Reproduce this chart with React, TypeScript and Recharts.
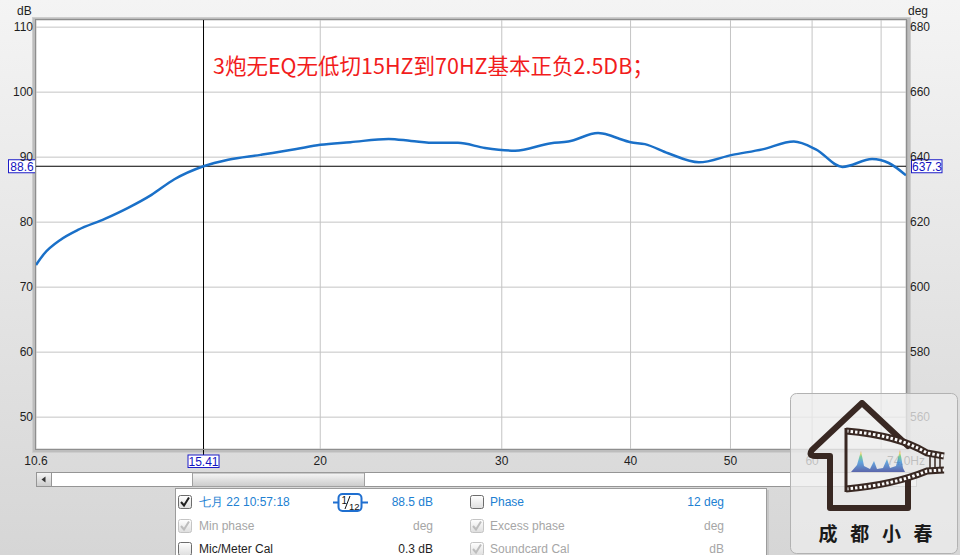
import { LineChart, Line, XAxis, YAxis, CartesianGrid, ReferenceLine } from "recharts";

// Frequency response, 1/12 octave smoothing
const freqHz = [
  10.6, 10.79, 11.2, 11.64, 12.36, 13.02, 13.72, 14.44, 15.41, 16.28, 17.5, 18.9, 20.0, 21.4, 23.3, 24.5,
  25.9, 27.2, 28.9, 30.9, 33.5, 34.8, 37.2, 38.1, 38.9, 40.0, 41.3, 43.5, 46.6, 50.2, 53.7, 57.6, 60.5,
  64.2, 68.6, 71.2, 74.0,
];
const splDb = [
  73.4, 75.1, 77.3, 78.8, 80.5, 82.2, 84.2, 86.6, 88.6, 89.6, 90.35, 91.2, 91.9, 92.3, 92.8, 92.5,
  92.2, 92.2, 91.4, 91.0, 92.15, 92.4, 93.7, 93.4, 92.9, 92.3, 92.0, 90.6, 89.2, 90.35, 91.2, 92.4, 91.2,
  88.5, 89.7, 89.1, 87.2,
];

const dbTicks = [50, 60, 70, 80, 90, 100, 110];
const degTicks = [560, 580, 600, 620, 640, 660, 680];
const freqTicks = [10.6, 20, 30, 40, 50, 60, 70, 74];
const freqTickText: Record<number, string> = { 10.6: "10.6", 20: "20", 30: "30", 40: "40", 50: "50", 60: "60", 74: "74.0Hz" };

const dbDomain = [45.1, 111.1];
const degDomain = [550.2, 682.2];
const freqDomain = [10.6, 74.0];

const cursorFreq = 15.41;
const cursorDb = 88.6;
const cursorDeg = 637.3;

const title = "3炮无EQ无低切15HZ到70HZ基本正负2.5DB；";

const data = freqHz.map((f, i) => ({ freq: f, spl: splDb[i] }));

const FONT = '"Liberation Sans", Arial, sans-serif';
const CJK = '"Noto Sans CJK SC", "Liberation Sans", sans-serif';
const BLUE = "#2180d2";
const GRAY = "#a6a6a6";

function LeftTick({ y, payload }: any) {
  return (
    <text x={33} y={y + 4} textAnchor="end" fontSize={12} fontFamily={FONT} fill="#1e1e1e">
      {payload.value}
    </text>
  );
}

function RightTick({ y, payload }: any) {
  return (
    <text x={910} y={y + 4} textAnchor="start" fontSize={12} fontFamily={FONT} fill="#1e1e1e">
      {payload.value}
    </text>
  );
}

function FreqTick({ x, payload }: any) {
  const label = freqTickText[payload.value];
  if (!label) return <g />;
  return (
    <text x={x} y={465} textAnchor="middle" fontSize={12} fontFamily={FONT} fill="#1e1e1e">
      {label}
    </text>
  );
}

function CursorDbLabel({ viewBox }: any) {
  const { x, y, width } = viewBox;
  return (
    <g fontFamily={FONT} fontSize={12} fill="#1414c0">
      <rect x={x - 27.5} y={y - 6.5} width={27} height={13} fill="#fff" stroke="#1c1cc8" />
      <text x={x - 14} y={y + 4.5} textAnchor="middle">{cursorDb}</text>
      <rect x={x + width + 5.5} y={y - 6.5} width={30.5} height={13} fill="#fff" stroke="#1c1cc8" />
      <text x={x + width + 21} y={y + 4.5} textAnchor="middle">{cursorDeg}</text>
    </g>
  );
}

function CursorFreqLabel({ viewBox }: any) {
  const { x, y, height } = viewBox;
  const b = y + height;
  return (
    <g fontFamily={FONT} fontSize={12} fill="#1414c0">
      <line x1={x} x2={x} y1={b} y2={b + 6} stroke="#000" />
      <rect x={x - 15.5} y={b + 6} width={31} height={12.5} fill="#fff" stroke="#1c1cc8" />
      <text x={x} y={b + 16.5} textAnchor="middle">{cursorFreq}</text>
    </g>
  );
}

function CheckBox({ x, y, checked, dim }: { x: number; y: number; checked?: boolean; dim?: boolean }) {
  return (
    <g>
      <rect x={x + 0.5} y={y + 0.5} width={13} height={13} rx={2} fill="url(#cbFill)" stroke={dim ? "#c4c4c4" : "#6c6c6c"} />
      {checked && (
        <path d={`M${x + 3},${y + 7} L${x + 6},${y + 10.5} L${x + 11},${y + 2.5}`} fill="none" stroke={dim ? "#bdbdbd" : "#202020"} strokeWidth={2} />
      )}
    </g>
  );
}

function Row({ y, box1, text1, color1, val1, vcolor1, box2, text2, color2, val2, vcolor2 }: any) {
  return (
    <g fontFamily={FONT} fontSize={12}>
      <CheckBox x={178} y={y - 11} {...box1} />
      <text x={199} y={y} fill={color1}>{text1}</text>
      <text x={433} y={y} textAnchor="end" fill={vcolor1}>{val1}</text>
      <CheckBox x={470} y={y - 11} {...box2} />
      <text x={490} y={y} fill={color2}>{text2}</text>
      <text x={724} y={y} textAnchor="end" fill={vcolor2}>{val2}</text>
    </g>
  );
}

function Chrome() {
  return (
    <svg width={960} height={555} style={{ position: "absolute", left: 0, top: 0 }}>
      <defs>
        <linearGradient id="cbFill" x1="0" y1="0" x2="0" y2="1">
          <stop offset="0%" stopColor="#ffffff" />
          <stop offset="100%" stopColor="#dedede" />
        </linearGradient>
        <linearGradient id="thumb" x1="0" y1="0" x2="0" y2="1">
          <stop offset="0%" stopColor="#f6f6f6" />
          <stop offset="100%" stopColor="#cbcbcb" />
        </linearGradient>
        <linearGradient id="spec" x1="0" y1="1" x2="0" y2="0">
          <stop offset="0%" stopColor="#10208c" />
          <stop offset="45%" stopColor="#1c7fd8" />
          <stop offset="70%" stopColor="#38c070" />
          <stop offset="85%" stopColor="#f0d020" />
          <stop offset="100%" stopColor="#e02010" />
        </linearGradient>
      </defs>

      {/* plot frame */}
      <rect x={35.5} y={19.5} width={871} height={430} fill="none" stroke="#8e8e8e" />
      <line x1={907.5} y1={20} x2={907.5} y2={450} stroke="#b0b0b0" />

      {/* title */}
      <text x={213} y={74} fontSize={21.5} fontFamily={CJK} fill="#f21c1c">{title}</text>

      {/* units */}
      <text x={17} y={15} fontSize={12} fontFamily={FONT} fill="#1e1e1e">dB</text>
      <text x={908} y={15} fontSize={12} fontFamily={FONT} fill="#1e1e1e">deg</text>

      {/* scroll bar */}
      <rect x={36.5} y={472.5} width={880} height={14} fill="#fff" stroke="#959595" />
      <rect x={36.5} y={472.5} width={15} height={14} fill="url(#thumb)" stroke="#959595" />
      <path d="M41.5,479.5 L45.5,476.5 L45.5,482.5 Z" fill="#333" />
      <rect x={192.5} y={473} width={172} height={13.5} fill="url(#thumb)" stroke="#a0a0a0" />

      {/* trace panel */}
      <rect x={177} y={490} width={592} height={70} fill="#c6c6c6" />
      <rect x={175.5} y={488.5} width={591} height={70} fill="#fff" stroke="#9c9c9c" />
      <Row
        y={506}
        box1={{ checked: true }} text1="七月 22 10:57:18" color1={BLUE} val1="88.5 dB" vcolor1={BLUE}
        box2={{}} text2="Phase" color2={BLUE} val2="12 deg" vcolor2={BLUE}
      />
      <Row
        y={530}
        box1={{ checked: true, dim: true }} text1="Min phase" color1={GRAY} val1="deg" vcolor1={GRAY}
        box2={{ checked: true, dim: true }} text2="Excess phase" color2={GRAY} val2="deg" vcolor2={GRAY}
      />
      <Row
        y={553}
        box1={{}} text1="Mic/Meter Cal" color1="#1e1e1e" val1="0.3 dB" vcolor1="#1e1e1e"
        box2={{ checked: true, dim: true }} text2="Soundcard Cal" color2={GRAY} val2="dB" vcolor2={GRAY}
      />
      {/* smoothing badge */}
      <line x1={333} x2={368} y1={502.5} y2={502.5} stroke="#1f6fd0" strokeWidth={2} />
      <rect x={338.5} y={494} width={23} height={17} rx={4} fill="#fff" stroke="#1f6fd0" strokeWidth={2} />
      <text x={341.5} y={504} fontSize={10} fontFamily={FONT} fill="#111">1</text>
      <line x1={345} y1={509} x2={350} y2={496} stroke="#111" />
      <text x={349} y={509.5} fontSize={9.5} fontFamily={FONT} fill="#111">12</text>

      {/* logo card, semi-transparent so the axis text shows through */}
      <rect x={790.5} y={393.5} width={167} height={160} rx={6} fill="rgba(236,236,236,0.78)" stroke="#b2b2b2" />
      <g opacity={0.92}>
        <path
          d="M908,446 L862,403 L812,450 Q808,456 815,456 L830,456 L830,508 L908,508 L908,479"
          fill="none" stroke="#2a1812" strokeWidth={6} strokeLinejoin="round" strokeLinecap="round"
        />
        <path
          d="M851,472 L857,465 L861,451 L864,466 L870,469 L874,461 L877,469 L883,468 L887,459 L890,468 L896,466 L900,450 L903,468 L905,472 Z"
          fill="url(#spec)" opacity={0.7}
        />
        <path d="M846,431 C880,434 905,440 927,453 L944,456" fill="none" stroke="#2a1812" strokeWidth={7} />
        <path d="M846,431 C880,434 905,440 927,453 L944,456" fill="none" stroke="#fff" strokeWidth={3} strokeDasharray="2.5 2" />
        <path d="M846,489 C880,486 905,480 927,471 L944,470" fill="none" stroke="#2a1812" strokeWidth={7} />
        <path d="M846,489 C880,486 905,480 927,471 L944,470" fill="none" stroke="#fff" strokeWidth={3} strokeDasharray="2.5 2" />
        <line x1={846} x2={846} y1={428} y2={492} stroke="#2a1812" strokeWidth={3} />
        {[930, 935, 940].map((bx) => (
          <line key={bx} x1={bx} x2={bx} y1={457} y2={468} stroke="#2a1812" strokeWidth={1.5} />
        ))}
      </g>
      {["成", "都", "小", "春"].map((ch, i) => (
        <text key={ch} x={828 + i * 31.7} y={541} textAnchor="middle" fontSize={19} fontWeight={700} fontFamily={CJK} fill="#1a1a1a">
          {ch}
        </text>
      ))}
    </svg>
  );
}

export default function App() {
  return (
    <div
      style={{
        position: "absolute",
        left: 0,
        top: 0,
        width: 960,
        height: 555,
        overflow: "hidden",
        background: "linear-gradient(#f4f4f4, #d6d6d6)",
      }}
    >
      <svg width={960} height={555} style={{ position: "absolute", left: 0, top: 0 }}>
        <rect x={32} y={17} width={879} height={436} fill="#cdcdcd" />
        <rect x={33} y={18} width={877} height={434} fill="#bdbdbd" />
      </svg>
      <div style={{ position: "absolute", left: 0, top: 0 }}>
        <LineChart width={960} height={555} data={data} margin={{ top: 20, right: 0, bottom: 0, left: 0 }}>
          <CartesianGrid fill="#fff" stroke="#c4c4c4" strokeWidth={1} />
          <XAxis
            dataKey="freq"
            type="number"
            scale="log"
            domain={freqDomain}
            ticks={freqTicks}
            allowDataOverflow
            height={106}
            axisLine={false}
            tickLine={false}
            tick={<FreqTick />}
            interval={0}
          />
          <YAxis
            type="number"
            domain={dbDomain}
            ticks={dbTicks}
            allowDataOverflow
            width={36}
            axisLine={false}
            tickLine={false}
            tick={<LeftTick />}
            interval={0}
          />
          <YAxis
            yAxisId="deg"
            orientation="right"
            type="number"
            domain={degDomain}
            ticks={degTicks}
            allowDataOverflow
            width={54}
            axisLine={false}
            tickLine={false}
            tick={<RightTick />}
            interval={0}
          />
          <ReferenceLine y={cursorDb} stroke="#000" strokeWidth={1} label={(p: any) => <CursorDbLabel {...p} />} />
          <ReferenceLine x={cursorFreq} stroke="#000" strokeWidth={1} label={(p: any) => <CursorFreqLabel {...p} />} />
          <Line
            type="monotone"
            dataKey="spl"
            stroke="#1a70c8"
            strokeWidth={2.5}
            dot={false}
            isAnimationActive={false}
          />
        </LineChart>
      </div>
      <Chrome />
    </div>
  );
}
